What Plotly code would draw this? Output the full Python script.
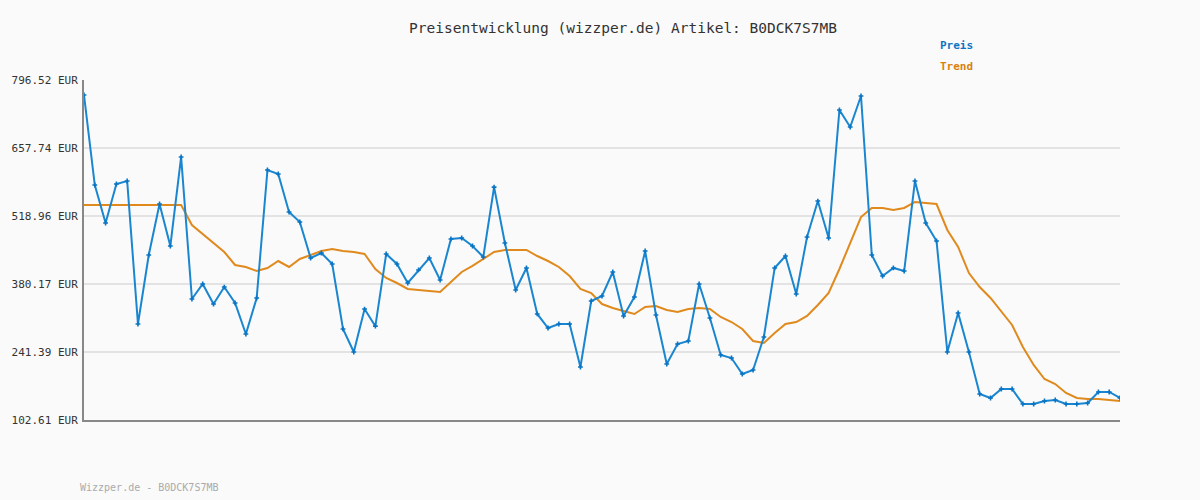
import plotly.graph_objects as go

preis = [765.9,582.2,504.7,584.3,590.4,298.5,439.4,543.4,457.7,639.4,
349.5,380.2,339.3,374.0,341.4,278.1,351.6,612.8,604.7,527.1,
506.7,433.2,443.4,421.0,288.3,241.4,329.1,294.1,441.4,421.0,
382.2,408.8,433.2,388.3,472.0,474.1,457.7,435.3,577.9,463.9,
367.9,412.9,319.0,290.4,298.5,298.5,210.8,345.5,355.7,404.7,
314.9,353.6,447.5,316.9,216.9,257.7,263.8,380.2,310.8,235.3,
229.1,196.5,204.6,272.0,412.9,437.3,359.8,476.1,549.5,474.1,
735.3,700.6,763.9,439.4,396.5,412.9,406.7,590.4,504.7,468.0,
241.4,321.0,241.4,155.7,147.5,165.9,165.9,135.3,135.3,141.4,
143.4,135.3,135.3,137.3,159.8,159.8,147.5]
trend = [541.4]*10 + [500.6,482.2,463.9,445.5,419.0,414.9,406.7,412.9,427.1,414.9,
431.2,439.4,447.5,451.6,447.5,445.5,441.4,410.8,392.4,382.2,
370.0,367.9,365.9,363.8,384.3,404.7,417.0,431.2,445.5,449.6,
449.6,449.6,437.3,427.1,414.9,396.5,370.0,361.8,339.3,331.2,
325.1,318.9,333.2,335.3,327.1,323.0,329.1,331.2,329.1,312.8,
302.6,288.3,263.8,259.8,280.2,298.5,302.6,314.9,337.3,361.8,
410.8,463.9,516.9,535.3,535.3,531.2,535.3,547.6,545.5,543.4,
490.4,455.7,402.6,374.0,351.6,325.1,296.5,251.6,214.9,186.3,
176.1,157.8,147.5,145.5,145.5,143.4,141.4]
ticks = [102.61,241.39,380.17,518.96,657.74,796.52]
x = list(range(len(preis)))

fig = go.Figure()
fig.add_trace(go.Scatter(x=x, y=trend, mode="lines", line=dict(color="#e08a1e", width=2), hoverinfo="skip"))
fig.add_trace(go.Scatter(x=x, y=preis, mode="lines+markers", line=dict(color="#1a86d0", width=2),
                         marker=dict(symbol="cross", size=4, color="#0a74c4")))
font = "DejaVu Sans Mono"
fig.update_layout(
    width=1200, height=500, showlegend=False,
    paper_bgcolor="#fafafa", plot_bgcolor="#fafafa",
    margin=dict(l=80, r=80, t=80, b=80),
    font=dict(family=font, size=11, color="#333"),
    title=dict(text="Preisentwicklung (wizzper.de) Artikel: B0DCK7S7MB", x=623/1200, y=1 - 28/500,
               xanchor="center", yanchor="middle", font=dict(family=font, size=14.5, color="#333")),
    xaxis=dict(range=[0, 96], showgrid=False, showticklabels=False, zeroline=False,
               showline=True, linecolor="#888", linewidth=2),
    yaxis=dict(range=[102.61, 796.52], tickvals=ticks, ticktext=[f"{t:.2f} EUR" for t in ticks],
               showgrid=True, gridcolor="#e3e3e3", gridwidth=2, zeroline=False,
               showline=True, linecolor="#888", linewidth=2, ticks="", ticklabelstandoff=2),
    annotations=[
        dict(text="<b>Preis</b>", x=937, y=46, showarrow=False,
             font=dict(color="#0a74c4", size=11, family=font), xanchor="left"),
        dict(text="<b>Trend</b>", x=937, y=67, showarrow=False,
             font=dict(color="#d9800f", size=11, family=font), xanchor="left"),
        dict(text="Wizzper.de - B0DCK7S7MB", x=74, y=487, showarrow=False,
             font=dict(color="#aaa", size=10, family=font), xanchor="left"),
    ],
)
for a in fig.layout.annotations:
    a.xref = "paper"; a.yref = "paper"; a.yanchor = "middle"
    a.x = (a.x - 80) / 1040
    a.y = (420 - a.y) / 340
fig.write_html("out.html", config={"displayModeBar": False})
with open("out.html", encoding="utf-8") as f:
    html = f.read()
html = html.replace("<body>", '<body style="margin:0;padding:0;background:#fafafa">', 1)
with open("out.html", "w", encoding="utf-8") as f:
    f.write(html)
